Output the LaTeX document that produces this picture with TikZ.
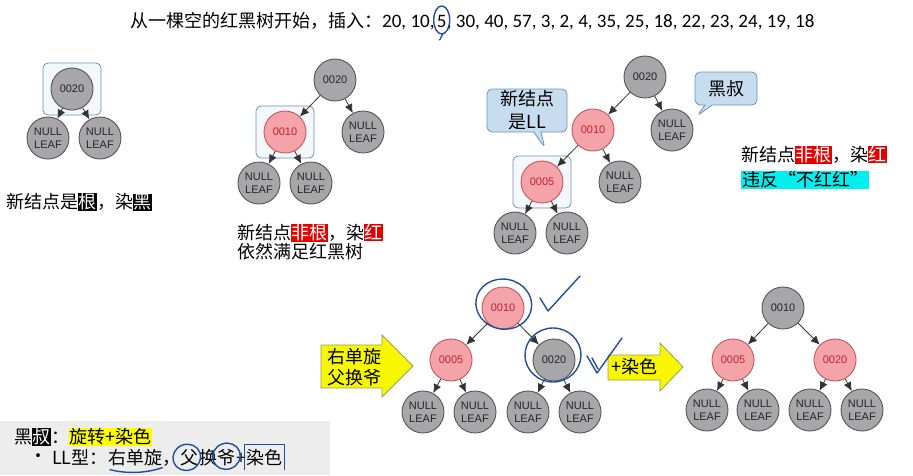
\documentclass[tikz,border=0pt]{standalone}
\usepackage{fontspec}
\setmainfont{Carlito}
\newfontfamily\cjk{Noto Sans CJK SC}
\newfontfamily\hv{Liberation Sans}
\usetikzlibrary{arrows.meta,shapes.callouts,backgrounds}

\definecolor{nodegray}{HTML}{A7A6A8}
\definecolor{nodeedge}{HTML}{555555}
\definecolor{nodepink}{HTML}{F4A4A9}
\definecolor{pinkedge}{HTML}{C4575E}
\definecolor{pinktext}{HTML}{C0222E}
\definecolor{boxblue}{HTML}{C7DCEF}
\definecolor{boxedge}{HTML}{6E93B8}
\definecolor{hiliteedge}{HTML}{6D93B5}
\definecolor{hilitefill}{HTML}{F4F7FC}
\definecolor{hlred}{HTML}{E60000}
\definecolor{hlcyan}{HTML}{00F0F0}
\definecolor{hlyellow}{HTML}{FFFF00}
\definecolor{arrowyellow}{HTML}{F7F700}
\definecolor{arrowedge}{HTML}{9C9C5A}
\definecolor{penblue}{HTML}{1F4F9C}
\definecolor{panelgray}{HTML}{EDEDED}

\newcommand\redmark[1]{{\setlength\fboxsep{0.5pt}\colorbox{hlred}{\textcolor{white}{#1}}}}
\newcommand\blackmark[1]{{\setlength\fboxsep{0.5pt}\colorbox{black}{\textcolor{white}{#1}}}}
\newcommand\yellowmark[1]{{\setlength\fboxsep{0.5pt}\colorbox{hlyellow}{#1}}}
\newcommand\cyanmark[1]{{\setlength\fboxsep{1pt}\colorbox{hlcyan}{#1}}}

\tikzset{
  blk/.style={draw=nodeedge, fill=nodegray, circle, minimum size=42pt, inner sep=0pt,
    line width=0.9pt, text=black!85, font=\hv\fontsize{11}{12.5}\selectfont, align=center},
  rd/.style={blk, draw=pinkedge, fill=nodepink, text=pinktext},
  nil/.style={blk},
  edge/.style={-{Latex[length=9pt,width=8pt]}, draw=black!80, line width=0.8pt},
  hilite/.style={draw=hiliteedge, fill=hilitefill, rounded corners=5pt, line width=0.8pt},
  callbox/.style={rectangle callout, draw=boxedge, fill=boxblue, rounded corners=5pt,
    line width=0.8pt, inner sep=1pt, align=center, font=\cjk\fontsize{18}{23}\selectfont},
  yarrow/.style={fill=arrowyellow, draw=arrowedge, line width=0.8pt},
  txt/.style={font=\cjk\fontsize{18}{19}\selectfont, inner sep=0pt},
  seg/.style={txt, anchor=base west},
  pen/.style={draw=penblue, line width=1.4pt, line cap=round, line join=round},
}

\begin{document}
\begin{tikzpicture}[x=1pt,y=-1pt]
  \useasboundingbox (0,0) rectangle (913,475);

  % title
  \node[anchor=base west, inner sep=0pt, font=\fontsize{19}{22}\selectfont] (ttlA) at (130,27)
    {{\cjk\fontsize{18}{22}\selectfont 从一棵空的红黑树开始，插入：}20, 10,\kern2pt};
  \node[anchor=base west, inner sep=0pt, font=\fontsize{19}{22}\selectfont] (five) at (ttlA.base east) {5};
  \node[anchor=base west, inner sep=0pt, font=\fontsize{19}{22}\selectfont] (ttlB) at (five.base east)
    {, 30, 40, 57, 3, 2, 4, 35, 25, 18, 22, 23, 24, 19, 18};

  % step 1: root
  \node[blk] (a0) at (72,89) {0020};
  \node[nil] (a1) at (48,138) {NULL\\LEAF};
  \node[nil] (a2) at (100,138) {NULL\\LEAF};
  \node[txt, anchor=west] (t1) at (6,202) {新结点是\blackmark{根}，染\blackmark{黑}};

  % step 2: insert 10
  \node[blk] (b0) at (335,80) {0020};
  \node[rd] (b1) at (285,132) {0010};
  \node[nil] (b2) at (363,132) {NULL\\LEAF};
  \node[nil] (b3) at (259,183) {NULL\\LEAF};
  \node[nil] (b4) at (311,183) {NULL\\LEAF};
  \node[txt, anchor=north west, align=left] (t2) at (237,224)
    {新结点\redmark{非根}，染\redmark{红}\\依然满足红黑树};

  % step 3: insert 5
  \node[blk] (c0) at (645,77) {0020};
  \node[rd] (c1) at (593,130) {0010};
  \node[nil] (c2) at (672,130) {NULL\\LEAF};
  \node[rd] (c3) at (542,182) {0005};
  \node[nil] (c4) at (620,182) {NULL\\LEAF};
  \node[nil] (c5) at (515,233) {NULL\\LEAF};
  \node[nil] (c6) at (567,233) {NULL\\LEAF};

  \coordinate (tipLL) at (545,148);
  \coordinate (tipUncle) at (697,116);
  \node[callbox, callout absolute pointer=(tipLL), minimum width=80pt, minimum height=43pt]
    (llnote) at (527,110.5) {新结点\\是LL};
  \node[callbox, callout absolute pointer=(tipUncle), minimum width=62pt, minimum height=33pt]
    (unclenote) at (726,88.5) {黑叔};

  \node[txt, anchor=north west, align=left, font=\cjk\fontsize{18}{25}\selectfont] (t3) at (741,146)
    {新结点\redmark{非根}，染\redmark{红}\\\cyanmark{违反“不红红”}};

  % rotate
  \filldraw[yarrow] (321,345) -- (382,345) -- (382,335) -- (413,366) -- (382,397)
    -- (382,388) -- (321,388) -- cycle;
  \node[txt, align=center, font=\cjk\fontsize{18}{21}\selectfont] (rotlbl) at (354,367) {右单旋\\父换爷};

  \node[rd] (d0) at (503,308) {0010};
  \node[rd] (d1) at (451,360) {0005};
  \node[blk] (d2) at (554,360) {0020};
  \node[nil] (d3) at (423,412) {NULL\\LEAF};
  \node[nil] (d4) at (475,412) {NULL\\LEAF};
  \node[nil] (d5) at (528,412) {NULL\\LEAF};
  \node[nil] (d6) at (580,412) {NULL\\LEAF};

  % recolour
  \filldraw[yarrow] (608,355) -- (660,355) -- (660,343) -- (683,367) -- (660,391)
    -- (660,380) -- (608,380) -- cycle;
  \node[txt] (dyelbl) at (634,367) {+染色};

  \node[blk] (e0) at (783,308) {0010};
  \node[rd] (e1) at (733,360) {0005};
  \node[rd] (e2) at (835,360) {0020};
  \node[nil] (e3) at (707,410) {NULL\\LEAF};
  \node[nil] (e4) at (758,410) {NULL\\LEAF};
  \node[nil] (e5) at (810,410) {NULL\\LEAF};
  \node[nil] (e6) at (862,410) {NULL\\LEAF};

  \foreach \p/\c in {a0/a1, a0/a2, b0/b1, b0/b2, b1/b3, b1/b4,
      c0/c1, c0/c2, c1/c3, c1/c4, c3/c5, c3/c6,
      d0/d1, d0/d2, d1/d3, d1/d4, d2/d5, d2/d6,
      e0/e1, e0/e2, e1/e3, e1/e4, e2/e5, e2/e6}
    \draw[edge] (\p) -- (\c);

  \begin{scope}[on background layer]
    \foreach \n in {a0, b1, c3}
      \draw[hilite] ([shift={(-29,-26)}]\n.center) rectangle ([shift={(29,26)}]\n.center);
    \fill[panelgray] (0,421) rectangle (330,475);
  \end{scope}

  % summary
  \node[txt, anchor=west] (sum1) at (14,437) {黑\blackmark{叔}：\yellowmark{旋转+染色}};
  \node[txt, anchor=west] (bul) at (29,458) {•};
  \node[seg] (ll) at (52,464) {LL型：};
  \node[seg] (rdx) at (ll.base east) {右单旋};
  \node[seg] (cma) at (rdx.base east) {，};
  \node[seg] (fu) at (cma.base east) {父};
  \node[seg] (huan) at (fu.base east) {换};
  \node[seg] (ye) at (huan.base east) {爷};
  \node[seg] (pls) at (ye.base east) {+};
  \node[seg] (rs) at (pls.base east) {染色};

  % pen marks
  \draw[pen] ([shift={(0,-1)}]five.center) ellipse [x radius=8, y radius=14];
  \draw[pen] ([shift={(1,13)}]five.center) -- ([shift={(-2,19)}]five.center);
  \draw[pen, rotate around={-10:(d0.center)}] ([shift={(0,-4)}]d0.center) ellipse [x radius=28, y radius=25];
  \draw[pen] ([shift={(37,-10)}]d0.center) -- ([shift={(45,3)}]d0.center) -- ([shift={(77,-32)}]d0.center);
  \draw[pen] ([shift={(-1,-5)}]d2.center) ellipse [x radius=28, y radius=27];
  \draw[pen] ([shift={(33,-4)}]d2.center) -- ([shift={(43,13)}]d2.center) -- ([shift={(68,-22)}]d2.center);
  \draw[pen] ([shift={(38,-2)}]d2.center) -- ([shift={(44,9)}]d2.center);
  \draw[pen] ([shift={(2,4)}]rdx.south west) .. controls ([shift={(18,8)}]rdx.south west)
    and ([shift={(-18,8)}]rdx.south east) .. ([shift={(0,2)}]rdx.south east);
  \draw[pen, rotate around={20:(fu.center)}] ([shift={(-3,-1)}]fu.center) ellipse [x radius=14, y radius=13];
  \draw[pen, rotate around={20:(ye.center)}] ([shift={(0,-1)}]ye.center) ellipse [x radius=14, y radius=13];
  \draw[pen] ([shift={(-2,4)}]rs.south west) -- ([shift={(-2,-4)}]rs.north west)
    -- ([shift={(2,-4)}]rs.north east) -- ([shift={(2,4)}]rs.south east);
\end{tikzpicture}
\end{document}
